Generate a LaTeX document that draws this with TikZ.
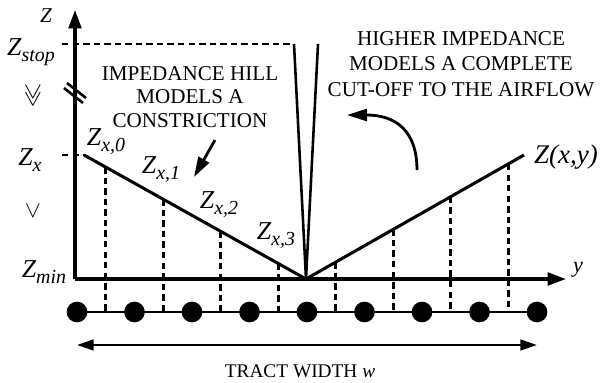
\documentclass[tikz,border=0pt]{standalone}
\usepackage{fontspec}
\setmainfont{Liberation Serif}
\usetikzlibrary{arrows.meta,calc}

\newcommand{\zlab}[1]{{\fontsize{22}{22}\selectfont\itshape Z}\raisebox{-5pt}{\fontsize{17}{17}\selectfont\itshape #1}}

\begin{document}
\begin{tikzpicture}[x=0.03cm, y=-0.03cm,
  axis/.style={line width=2.8pt, -{Triangle[length=5.5mm,width=3.8mm]}},
  hill/.style={line width=2.6pt},
  spike/.style={line width=2.2pt},
  guide/.style={line width=2.4pt, dash pattern=on 5.5pt off 3.5pt},
  brkmark/.style={line width=2.2pt},
  lbl/.style={inner sep=0pt, font=\fontsize{18}{20}\selectfont, align=center},
  zl/.style={inner sep=0pt},
  vee/.style={inner sep=0pt, rotate=-90, font=\fontsize{21}{21}\selectfont},
  ptr/.style={line width=2.4pt, -{Triangle[length=6mm,width=3.6mm]}},
  wid/.style={line width=2.2pt, {Triangle[length=5mm,width=3.2mm]}-{Triangle[length=5mm,width=3.2mm]}},
  dot/.style={circle, fill=black, inner sep=0pt, minimum size=6.2mm},
]
\useasboundingbox (0,0) rectangle (603,382);

% axes
\coordinate (O) at (75,279);
\coordinate (ztip) at (75,10);
\coordinate (ytip) at (566,279);
\draw[axis] (O) -- (ztip);
\draw[axis] (O) -- (ytip);

% axis break
\coordinate (brk) at (75,93);
\draw[brkmark] ([shift={(-11,-5)}]brk) -- ([shift={(8,10)}]brk);
\draw[brkmark] ([shift={(-8,-10)}]brk) -- ([shift={(11,5)}]brk);

% impedance levels
\coordinate (zs0) at (62,44);
\coordinate (zs1) at (290,44);
\draw[guide] (zs0) -- (zs1);
\coordinate (zx0) at (62,155);
\coordinate (A) at (84,155);
\draw[guide] (zx0) -- (A);

% hill and spike
\coordinate (V) at (306,279);
\coordinate (B) at (524,155);
\coordinate (S1) at (294,44);
\coordinate (S2) at (318,44);
\draw[hill] (A) -- (V) -- (B);
\draw[spike] (S1) -- (V) -- (S2);

% tract sections
\foreach \i in {0,...,8}
  \node[dot] (d\i) at ({77+57.5*\i},312) {};
\draw[line width=2pt] (d0.center) -- (d8.center);

\foreach \k in {0,...,3}{
  \pgfmathsetmacro\t{(105.75+57.5*\k-84)/222}
  \coordinate (h\k) at ($(A)!\t!(V)$);
  \draw[guide] (h\k) -- (h\k |- d0);
}
\foreach \k in {4,...,7}{
  \pgfmathsetmacro\t{(105.75+57.5*\k-306)/218}
  \coordinate (h\k) at ($(V)!\t!(B)$);
  \draw[guide] (h\k) -- (h\k |- d0);
}

% labels
\node[zl] (lz) at (46,16) {\fontsize{18}{18}\selectfont\itshape Z};
\node[zl] (ly) at (578,270) {\fontsize{19}{19}\selectfont\itshape y};
\node[zl] (lzs) at (31,52) {\zlab{stop}};
\node[zl] (lzx) at (30,160) {\zlab{x}};
\node[zl] (lzm) at (44,272) {\zlab{min}};
\node[zl] (lz0) at (106,142) {\zlab{x,0}};
\node[zl] (lz1) at (161,170) {\zlab{x,1}};
\node[zl] (lz2) at (219,205) {\zlab{x,2}};
\node[zl] (lz3) at (276,236) {\zlab{x,3}};
\node[zl] (lzxy) at (566,157) {\fontsize{23}{23}\selectfont\itshape Z(x,y)};
\node[vee] (vv) at (33,96) {$\gg$};
\node[vee] (v1) at (33,211) {$>$};

\node[lbl] (hilltxt) at (190,97) {IMPEDANCE HILL\\MODELS A\\CONSTRICTION};
\node[lbl, font=\fontsize{18}{22}\selectfont] (cuttxt) at (461,64)
  {HIGHER IMPEDANCE\\MODELS A COMPLETE\\CUT-OFF TO THE AIRFLOW};

% pointers
\coordinate (p0) at (215,140);
\coordinate (p1) at (194,177);
\draw[ptr] (p0) -- (p1);
\coordinate (c0) at (417,170);
\coordinate (c1) at (347,115);
\draw[ptr] (c0) .. controls (417,130) and (395,115) .. (c1);

% tract width
\coordinate (w0) at (77,345);
\coordinate (w1) at (537,345);
\draw[wid] (w0) -- (w1);
\node[lbl, font=\fontsize{16.5}{18}\selectfont] (wl) at (300,371) {TRACT WIDTH \textit{w}};
\end{tikzpicture}
\end{document}
